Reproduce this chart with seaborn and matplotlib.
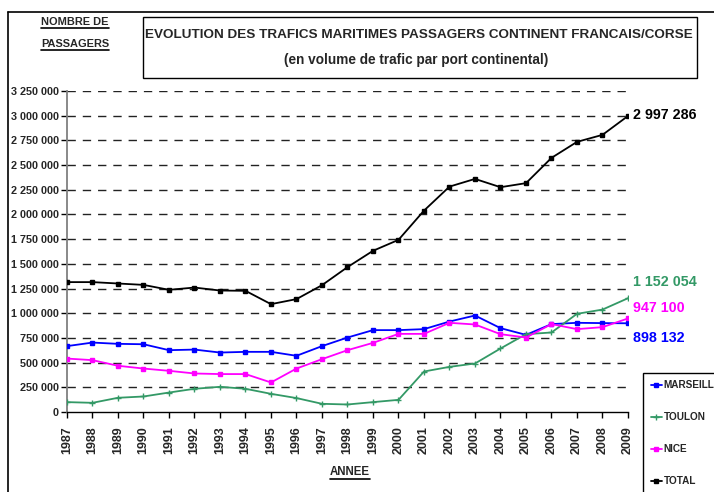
import matplotlib
matplotlib.use("Agg")
import matplotlib.pyplot as plt
from matplotlib.lines import Line2D
from matplotlib.patches import Rectangle
import seaborn as sns
import pandas as pd

years = list(range(1987, 2010))
marseille = [667000, 703000, 690000, 686000, 626000, 632000, 602000, 609000, 609000, 569000, 667000, 754000,
             829000, 829000, 839000, 916000, 977000, 849000, 781000, 890000, 903000, 900000, 898132]
toulon = [100000, 93000, 144000, 157000, 197000, 235000, 255000, 235000, 184000, 141000, 83000, 76000,
          100000, 123000, 410000, 457000, 491000, 643000, 788000, 805000, 994000, 1037000, 1152054]
nice = [541000, 525000, 468000, 440000, 417000, 390000, 384000, 384000, 299000, 440000, 535000, 626000,
        700000, 791000, 791000, 903000, 886000, 788000, 754000, 890000, 839000, 859000, 947100]
total = [1315000, 1315000, 1301000, 1287000, 1237000, 1260000, 1230000, 1227000, 1092000, 1143000, 1284000, 1467000,
         1632000, 1743000, 2039000, 2282000, 2360000, 2276000, 2317000, 2573000, 2735000, 2806000, 2997286]
series_names = ["MARSEILLE", "TOULON", "NICE", "TOTAL"]
end_labels = ["898 132", "1 152 054", "947 100", "2 997 286"]
y_ticks = [0, 250000, 500000, 750000, 1000000, 1250000, 1500000, 1750000, 2000000,
           2250000, 2500000, 2750000, 3000000, 3250000]
title = "EVOLUTION DES TRAFICS MARITIMES PASSAGERS CONTINENT FRANCAIS/CORSE"
subtitle = "(en volume de trafic par port continental)"
y_title = ["NOMBRE DE", "PASSAGERS"]
x_title = "ANNEE"

colors = {"MARSEILLE": "#0000FF", "TOULON": "#339966", "NICE": "#FF00FF", "TOTAL": "#000000"}
markers = {"MARSEILLE": "s", "TOULON": "+", "NICE": "s", "TOTAL": "s"}

rows = []
for name, vals in zip(series_names, [marseille, toulon, nice, total]):
    for yr, v in zip(years, vals):
        rows.append({"year": yr, "value": v, "series": name})
df = pd.DataFrame(rows)

sns.set_theme(style="white")
FONT = ["Liberation Sans Narrow", "Liberation Sans", "DejaVu Sans"]
plt.rcParams["font.family"] = FONT
plt.rcParams["font.weight"] = "bold"

fig = plt.figure(figsize=(7.14, 4.92), dpi=100)
ax = fig.add_axes([67 / 714, 1 - 412 / 492, (628 - 67) / 714, (412 - 91) / 492])

msize = {"MARSEILLE": 3.2, "TOULON": 4.0, "NICE": 3.2, "TOTAL": 2.6}
for name in series_names:
    sub = df[df["series"] == name]
    sns.lineplot(data=sub, x="year", y="value", color=colors[name], marker=markers[name],
                 markersize=msize[name], markeredgewidth=1.0, markeredgecolor=colors[name],
                 linewidth=1.3, legend=False, ax=ax, zorder=3)

ax.set_xlim(1987, 2009)
ax.set_ylim(0, 3250000)
ax.set_yticks(y_ticks)
ax.set_yticklabels([f"{v:,}".replace(",", " ") for v in y_ticks], fontsize=7.8, fontweight="bold")
ax.set_xticks(years)
ax.set_xticklabels([str(y) for y in years], rotation=90, fontsize=9, fontweight="bold")
ax.set_xlabel("")
ax.set_ylabel("")
ax.tick_params(axis="y", length=4, width=1, color="#000000", pad=2, direction="out", left=True)
ax.tick_params(axis="x", length=4, width=1, color="#000000", pad=6, direction="out", bottom=True)

for v in y_ticks[1:]:
    ax.axhline(v, color="#222222", lw=1.0, linestyle=(0, (6, 5)), zorder=1)

for s in ["top", "right"]:
    ax.spines[s].set_visible(False)
ax.spines["left"].set_color("#808080")
ax.spines["left"].set_linewidth(1.3)
ax.spines["bottom"].set_color("#000000")
ax.spines["bottom"].set_linewidth(1.0)

# end labels
end_y_px = {"MARSEILLE": 338, "TOULON": 282, "NICE": 308, "TOTAL": 115}
for name, lab in zip(series_names, end_labels):
    fig.text(633 / 714, 1 - end_y_px[name] / 492, lab, color=colors[name], fontsize=10.3,
             fontweight="bold", ha="left", va="center")

# title box
fig.add_artist(Rectangle((143 / 714, 1 - 78 / 492), (697 - 143) / 714, (78 - 17) / 492,
                         transform=fig.transFigure, fill=False, edgecolor="black", lw=1.0))
fig.text(419 / 714, 1 - 35 / 492, title, fontsize=9.7, fontweight="bold", ha="center", va="center")
fig.text(416 / 714, 1 - 60 / 492, subtitle, fontsize=9.8, fontweight="bold", ha="center", va="center")

# outer frame
fig.add_artist(Line2D([8 / 714, 1], [1 - 12 / 492, 1 - 12 / 492], transform=fig.transFigure, color="black", lw=1.2))
fig.add_artist(Line2D([8 / 714, 8 / 714], [0, 1 - 12 / 492], transform=fig.transFigure, color="black", lw=1.2))

under_texts = []
under_texts.append(fig.text(75 / 714, 1 - 22 / 492, y_title[0], fontsize=7.9, fontweight="bold", ha="center", va="center"))
under_texts.append(fig.text(75 / 714, 1 - 44 / 492, y_title[1], fontsize=7.9, fontweight="bold", ha="center", va="center"))
under_texts.append(fig.text(350 / 714, 1 - 472 / 492, x_title, fontsize=8.3, fontweight="bold", ha="center", va="center"))

# legend
handles = [Line2D([0], [0], color=colors[n], marker=markers[n], markersize=msize[n], lw=1.3) for n in series_names]
leg = fig.legend(handles, series_names, loc="upper left", bbox_to_anchor=(643 / 714, 1 - 373 / 492),
                 frameon=True, fancybox=False, edgecolor="black", framealpha=1,
                 prop={"family": FONT, "weight": "bold", "size": 7.2},
                 handlelength=1.1, handletextpad=0.2, labelspacing=2.2, borderpad=0.75, borderaxespad=0)
leg.get_frame().set_linewidth(1.0)

fig.canvas.draw()
renderer = fig.canvas.get_renderer()
inv = fig.transFigure.inverted()
for t in under_texts:
    bb = t.get_window_extent(renderer)
    (x0, y0), (x1, y1) = inv.transform([[bb.x0, bb.y0], [bb.x1, bb.y0]])
    fig.add_artist(Line2D([x0, x1], [y0 - 1 / 492, y0 - 1 / 492], transform=fig.transFigure, color="black", lw=1.2))

fig.savefig("out.png", dpi=100)
